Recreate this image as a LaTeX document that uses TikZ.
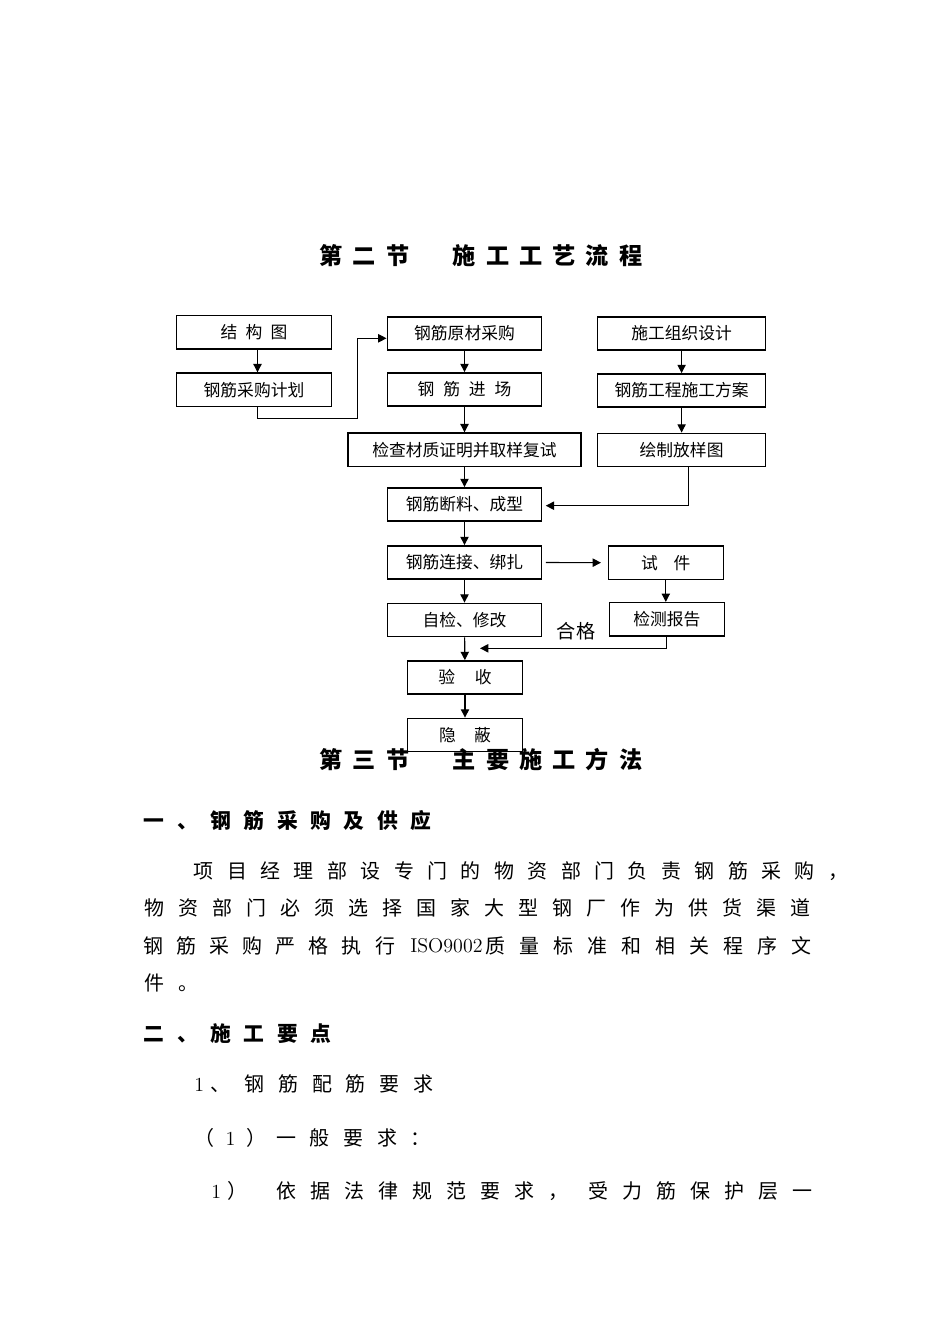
\documentclass[tikz,border=0pt]{standalone}
\usepackage{fontspec}
\newfontfamily\cjk{Noto Sans CJK SC}
\usetikzlibrary{arrows.meta}
\newdimen\pxu \pxu=0.626pt
% spaced text: every character in a cell of width #1
\newcommand\spread[2]{\def\cellw{#1}\spreadnext#2\relax}
\def\spreadnext#1{\ifx\relax#1\else\makebox[\cellw]{#1}\expandafter\spreadnext\fi}
\begin{document}
\begin{tikzpicture}[x=0.626pt, y=-0.626pt,
  box/.style={draw, line width=0.9pt, inner sep=0, minimum width=#1, minimum height=33.4\pxu, font=\cjk\fontsize{10.5}{12}\selectfont},
  arr/.style={-{Triangle[length=5.2pt,width=5.2pt]}, line width=0.7pt},
  title/.style={inner sep=0, font=\cjk\bfseries\fontsize{14.5}{16}\selectfont},
  head/.style={inner sep=0, anchor=west, font=\cjk\bfseries\fontsize{13}{15}\selectfont},
  body/.style={inner sep=0, anchor=west, font=\cjk\fontsize{12.5}{15}\selectfont}]
\useasboundingbox (0,0) rectangle (950,1344);
\node (t1) at (481,256) [title]{\spread{33.3\pxu}{第二节\null 施工工艺流程}};
% left column
\node (jgt) at (254,332.2) [box=155\pxu]{\spread{25\pxu}{结构图}};
\node (jhjh) at (254,389.7) [box=155\pxu]{钢筋采购计划};
% middle column
\node (ycl) at (464.5,333.5) [box=154.5\pxu]{钢筋原材采购};
\node (jc) at (464.5,389.5) [box=154.5\pxu]{\spread{25.7\pxu}{钢筋进场}};
\node (jccl) at (464.5,449.7) [box=233.4\pxu]{检查材质证明并取样复试};
\node (dl) at (464.5,504.5) [box=154.5\pxu]{钢筋断料、成型};
\node (lj) at (464.5,562.5) [box=154.5\pxu]{钢筋连接、绑扎};
\node (zj) at (464.5,620) [box=154.5\pxu]{自检、修改};
\node (ys) at (465,677.5) [box=115.4\pxu]{\spread{36.5\pxu}{验收}};
\node (yb) at (465,735) [box=115.4\pxu]{\spread{35\pxu}{隐蔽}};
% right column
\node (sz) at (681.6,333.5) [box=168\pxu]{施工组织设计};
\node (fa) at (681.6,390.5) [box=168\pxu]{钢筋工程施工方案};
\node (fy) at (681.6,450) [box=168\pxu]{绘制放样图};
\node (sj) at (665.8,562.7) [box=115\pxu]{\spread{32.5\pxu}{试件}};
\node (bg) at (666.8,619.3) [box=115\pxu]{检测报告};
\node (hg) at (576,631.5) [inner sep=0, font=\cjk\fontsize{12}{14}\selectfont]{合格};
\coordinate (hgend) at (480,648.3);
\draw [arr] ([xshift=3.5\pxu]jgt.south) -- ([xshift=3.5\pxu]jhjh.north);
\draw [arr] ([xshift=3.5\pxu]jhjh.south) -- ++(0,11.6) -| ([xshift=-29\pxu,yshift=-4.8\pxu]ycl.west) -- ([yshift=-4.8\pxu]ycl.west);
\draw [arr] (ycl) -- (jc);
\draw [arr] (jc) -- (jccl);
\draw [arr] (jccl) -- (dl);
\draw [arr] (dl) -- (lj);
\draw [arr] (lj) -- (zj);
\draw [arr] (zj) -- (ys);
\draw [arr] (ys) -- (yb);
\draw [arr] (sz) -- (fa);
\draw [arr] (fa) -- (fy);
\draw [arr,shorten >=3.3\pxu] ([xshift=6.7\pxu]fy.south) |- ([yshift=-1.2\pxu]dl.east);
\draw [arr,shorten <=3.5\pxu,shorten >=6.6\pxu] (lj.east) -- (sj.west);
\draw [arr] (sj.south) -- (sj.south |- bg.north);
\draw [arr] (bg.south) |- (hgend);
\node (t2) at (481,760) [title]{\spread{33.3\pxu}{第三节\null 主要施工方法}};
% text below
\node (h1) at (137.4,821) [head]{\spread{33.3\pxu}{一、钢筋采购及供应}};
\node (p1) at (186.7,871) [body]{\spread{33.4\pxu}{项目经理部设专门的物资部门负责钢筋采购，}};
\node (p2) at (137,908) [body]{\spread{34\pxu}{物资部门必须选择国家大型钢厂作为供货渠道}};
\node (p3a) at (136.5,946) [body]{\spread{33.1\pxu}{钢筋采购严格执行}};
\node (p3b) at (410,946) [body]{\rmfamily ISO9002};
\node (p3c) at (478,946) [body]{\spread{34\pxu}{质量标准和相关程序文}};
\node (p4) at (137,983) [body]{\spread{34\pxu}{件。}};
\node (h2) at (137.4,1034) [head]{\spread{33.3\pxu}{二、施工要点}};
\node (i1) at (194,1084) [body]{{\rmfamily 1}\spread{33.7\pxu}{、钢筋配筋要求}};
\node (i2) at (191.2,1138) [body]{\spread{26\pxu}{（{\rmfamily 1}）}\spread{33.6\pxu}{一般要求：}};
\node (i3) at (205.5,1191) [body]{\spread{21\pxu}{{\rmfamily 1}）}\hspace{21.5\pxu}\spread{34\pxu}{依据法律规范要求，}\hspace{6\pxu}\spread{34\pxu}{受力筋保护层一}};
\end{tikzpicture}
\end{document}
